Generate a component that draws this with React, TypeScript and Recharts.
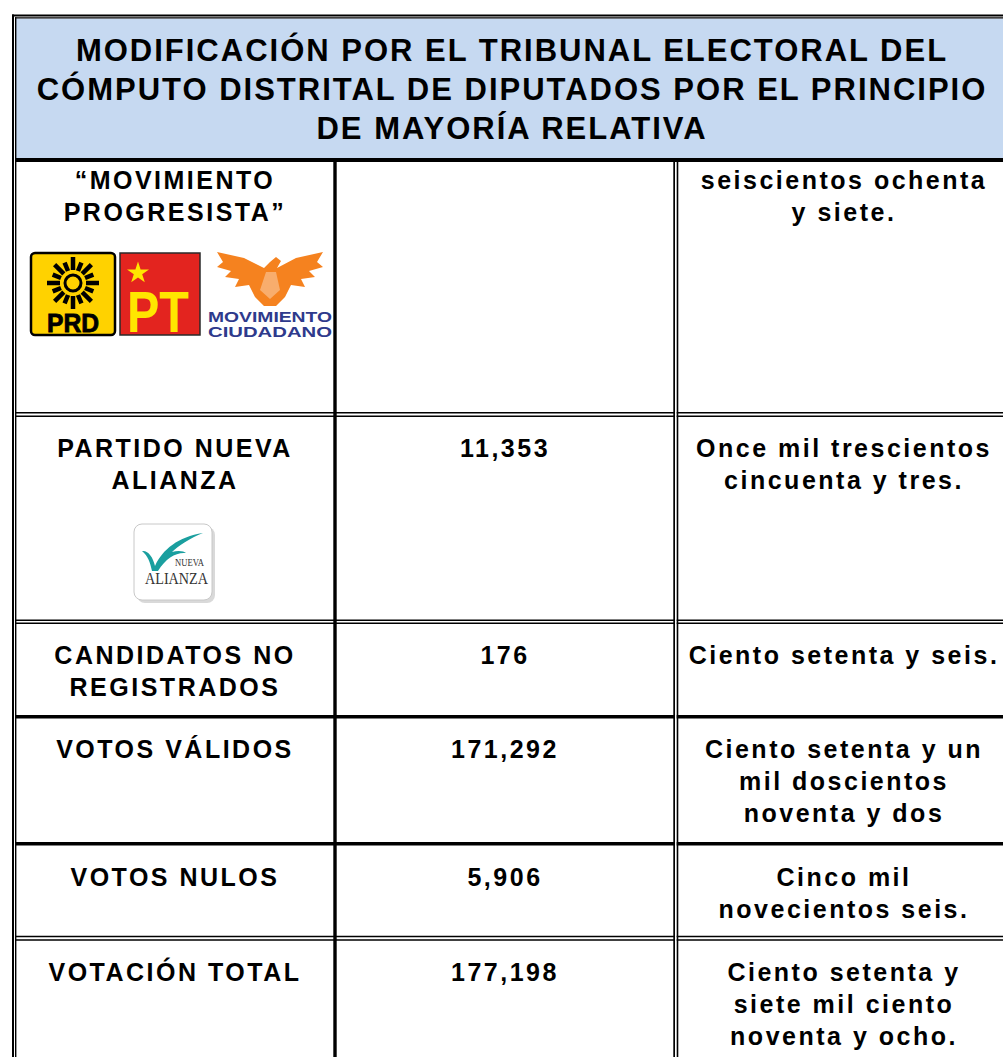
import React from "react";
import { Surface, Layer, Rectangle, Text, Symbols } from "recharts";

// table content
const headerLines = [
  "MODIFICACIÓN POR EL TRIBUNAL ELECTORAL DEL",
  "CÓMPUTO DISTRITAL DE DIPUTADOS POR EL PRINCIPIO",
  "DE MAYORÍA RELATIVA"
];
const partyLabels = [
  ["“MOVIMIENTO", "PROGRESISTA”"],
  ["PARTIDO NUEVA", "ALIANZA"],
  ["CANDIDATOS NO", "REGISTRADOS"],
  ["VOTOS VÁLIDOS"],
  ["VOTOS NULOS"],
  ["VOTACIÓN TOTAL"]
];
const voteFigures = ["", "11,353", "176", "171,292", "5,906", "177,198"];
const voteWords = [
  ["seiscientos ochenta", "y siete."],
  ["Once mil trescientos", "cincuenta y tres."],
  ["Ciento setenta y seis."],
  ["Ciento setenta y un", "mil doscientos", "noventa y dos"],
  ["Cinco mil", "novecientos seis."],
  ["Ciento setenta y", "siete mil ciento", "noventa y ocho."]
];

// layout
const W = 1003;
const H = 1057;
const colCenters = [175, 505, 844];
const rowTops = [162, 417, 624, 718, 846, 941];
const lineGap = 32;
const headerFill = "#c6d9f1";
const font = "'Liberation Sans', Arial, sans-serif";

const bodyStyle = { fontFamily: font, fontWeight: 700, fontSize: 25, letterSpacing: 2.5 };
const headStyle = { fontFamily: font, fontWeight: 700, fontSize: 31, letterSpacing: 2 };

function Cell({ x, y, lines }: { x: number; y: number; lines: string[] }) {
  return (
    <Layer>
      {lines.map((t, i) => (
        <Text
          key={i}
          x={x}
          y={y + i * lineGap}
          textAnchor="middle"
          verticalAnchor="middle"
          fill="#000"
          style={bodyStyle}
        >
          {t}
        </Text>
      ))}
    </Layer>
  );
}

function PrdLogo() {
  const cx = 73;
  const cy = 283;
  const rays = Array.from({ length: 16 }, (_, i) => i * 22.5);
  return (
    <Layer>
      <Rectangle x={31} y={253} width={84} height={82} radius={4} fill="#ffd200" stroke="#000" strokeWidth={2.5} />
      {rays.map((a, i) => {
        const r1 = 13;
        const r2 = i % 2 ? 22 : 26;
        const rad = (a * Math.PI) / 180;
        return (
          <line
            key={i}
            x1={cx + r1 * Math.cos(rad)}
            y1={cy + r1 * Math.sin(rad)}
            x2={cx + r2 * Math.cos(rad)}
            y2={cy + r2 * Math.sin(rad)}
            stroke="#000"
            strokeWidth={4.5}
          />
        );
      })}
      <circle cx={cx} cy={cy} r={8} fill="none" stroke="#000" strokeWidth={3} />
      <text x={cx} y={332} textAnchor="middle" fontFamily={font} fontWeight={700} fontSize={25} fill="#000" textLength={52} lengthAdjust="spacingAndGlyphs" stroke="#000" strokeWidth={0.8}>
        PRD
      </text>
    </Layer>
  );
}

function PtLogo() {
  return (
    <Layer>
      <Rectangle x={120} y={253} width={80} height={82} fill="#e3241f" stroke="#2a2a2a" strokeWidth={1.5} />
      <Symbols type="star" sizeType="area" size={150} cx={138} cy={273} fill="#ffe600" />
      <text x={158} y={332} textAnchor="middle" fontFamily={font} fontWeight={700} fontSize={58} fill="#ffe600" textLength={62} lengthAdjust="spacingAndGlyphs">
        PT
      </text>
    </Layer>
  );
}

function McLogo() {
  const eagle =
    "M270 262 L276 257 L281 261 L277 268 L296 258 L323 252 L317 262 L323 267 L309 271 L315 277 L301 279 L305 287 L291 285 L285 297 L276 306 L264 306 L255 297 L249 285 L235 287 L239 279 L225 277 L231 271 L217 267 L223 262 L217 252 L244 258 L264 268 Z";
  return (
    <Layer>
      <path d={eagle} fill="#f5821f" />
      <path d="M266 272 L276 272 L280 290 L270 299 L260 290 Z" fill="#ffffff" opacity={0.35} />
      <text x={208} y={322} fontFamily={font} fontWeight={700} fontSize={15} fill="#2e3a8c" textLength={124} lengthAdjust="spacingAndGlyphs">
        MOVIMIENTO
      </text>
      <text x={208} y={337} fontFamily={font} fontWeight={700} fontSize={15} fill="#2e3a8c" textLength={124} lengthAdjust="spacingAndGlyphs">
        CIUDADANO
      </text>
    </Layer>
  );
}

function NuevaAlianzaLogo() {
  return (
    <Layer>
      <Rectangle x={137} y={527} width={78} height={76} radius={8} fill="#d9d9d9" />
      <Rectangle x={134} y={524} width={78} height={76} radius={8} fill="#ffffff" stroke="#c8c8c8" strokeWidth={1} />
      <path
        d="M142 551 C148 550 153 557 155 566 C163 549 178 537 203 533 C190 538 178 546 172 552 C178 550 184 551 186 553 C176 552 166 558 158 571 L152 571 C150 562 148 556 142 551 Z"
        fill="#1a9f9f"
      />
      <text x={175} y={566} fontFamily="'Liberation Serif', serif" fontSize={11} fill="#333" textLength={29} lengthAdjust="spacingAndGlyphs">
        NUEVA
      </text>
      <text x={145} y={584} fontFamily="'Liberation Serif', serif" fontSize={17} fill="#333" textLength={63} lengthAdjust="spacingAndGlyphs">
        ALIANZA
      </text>
    </Layer>
  );
}

function Grid() {
  const black = "#000";
  const singles = [
    [715, 3.4],
    [842, 3.5]
  ];
  const doubles = [
    [412, 415.5],
    [619.5, 622.5],
    [935.7, 939.2]
  ];
  return (
    <Layer>
      {/* header band */}
      <Rectangle x={16} y={18.5} width={W - 16} height={140} fill={headerFill} />
      {/* outer frame */}
      <Rectangle x={12} y={14.5} width={W - 12} height={2} fill={black} />
      <Rectangle x={15} y={17.3} width={W - 15} height={1.3} fill={black} />
      <Rectangle x={12} y={14.5} width={2} height={H - 14.5} fill={black} />
      <Rectangle x={15} y={17.3} width={1.4} height={H - 17.3} fill={black} />
      <Rectangle x={15} y={158} width={W - 15} height={4} fill={black} />
      {singles.map(([y, h], i) => (
        <Rectangle key={"s" + i} x={15} y={y} width={W - 15} height={h} fill={black} />
      ))}
      {doubles.map(([a, b], i) => (
        <Layer key={"d" + i}>
          <Rectangle x={15} y={a} width={W - 15} height={1.6} fill={black} />
          <Rectangle x={15} y={b} width={W - 15} height={1.6} fill={black} />
        </Layer>
      ))}
      {/* column rules */}
      <Rectangle x={333.3} y={160} width={3.4} height={H - 160} fill={black} />
      <Rectangle x={675} y={162} width={1.7} height={H - 162} fill="#fff" />
      <Rectangle x={673.3} y={160} width={1.7} height={H - 160} fill={black} />
      <Rectangle x={676.7} y={160} width={1.6} height={H - 160} fill={black} />
    </Layer>
  );
}

export default function App() {
  return (
    <div style={{ position: "absolute", left: 0, top: 0, width: W, height: H, background: "#fff" }}>
      <Surface width={W} height={H}>
        <Rectangle x={0} y={0} width={W} height={H} fill="#fff" />
        <Grid />
        {headerLines.map((t, i) => (
          <Text
            key={i}
            x={512}
            y={50 + i * 39}
            textAnchor="middle"
            verticalAnchor="middle"
            fill="#000"
            style={headStyle}
          >
            {t}
          </Text>
        ))}
        {rowTops.map((top, i) => {
          const y = i === 0 ? 180 : top + 31;
          return (
            <Layer key={i}>
              <Cell x={colCenters[0]} y={y} lines={partyLabels[i]} />
              {voteFigures[i] ? <Cell x={colCenters[1]} y={y} lines={[voteFigures[i]]} /> : null}
              <Cell x={colCenters[2]} y={y} lines={voteWords[i]} />
            </Layer>
          );
        })}
        <PrdLogo />
        <PtLogo />
        <McLogo />
        <NuevaAlianzaLogo />
      </Surface>
    </div>
  );
}
